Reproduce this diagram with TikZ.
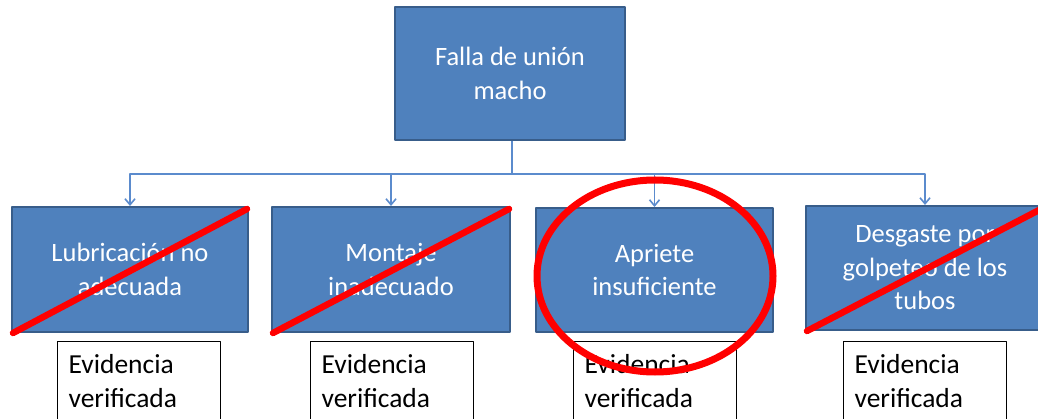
\documentclass[tikz,border=0pt]{standalone}
\usepackage{fontspec}
\setmainfont{Carlito}
\usetikzlibrary{arrows.meta,calc}

\definecolor{boxblue}{RGB}{79,129,189}
\definecolor{boxedge}{RGB}{56,93,138}
\definecolor{linkblue}{RGB}{91,139,205}

\tikzset{
  causebox/.style={draw=boxedge, line width=2pt, fill=boxblue, text=white,
    align=center, inner sep=4pt, font=\fontsize{26.5}{33.5}\selectfont},
  evidbox/.style={draw=black, line width=1.2pt, fill=white, anchor=north west,
    minimum width=163, minimum height=79, text width=141, align=left,
    inner sep=0pt, font=\fontsize{27.5}{34}\selectfont},
  link/.style={draw=linkblue, line width=1.6pt},
  cross/.style={draw=red, line width=6.5pt},
}

\begin{document}
\begin{tikzpicture}[x=1pt, y=-1pt, line join=round]

  %% ==== canvas ====
  \clip (0,0) rectangle (1038,419);

  %% ==== boxes ====
  \node[causebox, minimum width=230, minimum height=133] (falla) at (510,73.5)
    {Falla de unión\\macho};
  \node[causebox, minimum width=236, minimum height=125] (lubric) at (130,269.5)
    {Lubricación no\\adecuada};
  \node[causebox, minimum width=238, minimum height=125] (montaje) at (391,269.5)
    {Montaje\\inadecuado};
  \node[causebox, minimum width=237, minimum height=124] (apriete) at (654.5,270)
    {Apriete\\insuficiente};
  \node[causebox, minimum width=238, minimum height=124] (desgaste) at (925,268)
    {Desgaste por\\golpeteo de los\\tubos};

  %% ==== evidence boxes ====
  \node[evidbox] (evlubric) at (57,341) {Evidencia\\verificada};
  \node[evidbox] (evmontaje) at (310,341) {Evidencia\\verificada};
  \node[evidbox] (evapriete) at (573,341) {Evidencia\\verificada};
  \node[evidbox] (evdesgaste) at (843,341) {Evidencia\\verificada};

  %% ==== connectors ====
  \coordinate (bus) at (512,174);
  \draw[link] (falla.south -| bus) -- (bus);
  \foreach \b in {lubric, montaje, apriete, desgaste}
    \draw[link, -{Straight Barb[length=6pt, width=10pt]}] (bus) -| (\b.north);

  %% ==== red marks ====
  \draw[cross, line cap=round] ($(lubric.south west)+(2,0)$) -- ($(lubric.north east)+(-2,3)$);
  \draw[cross, line cap=round] ($(montaje.south west)+(2,0)$) -- ($(montaje.north east)+(-2,3)$);
  \draw[cross, line cap=round] ($(desgaste.south west)+(2,0)$) -- ($(desgaste.north east)+(-2,3)$);
  \draw[cross, line width=7pt] (655,276) ellipse (118 and 96);

\end{tikzpicture}
\end{document}
